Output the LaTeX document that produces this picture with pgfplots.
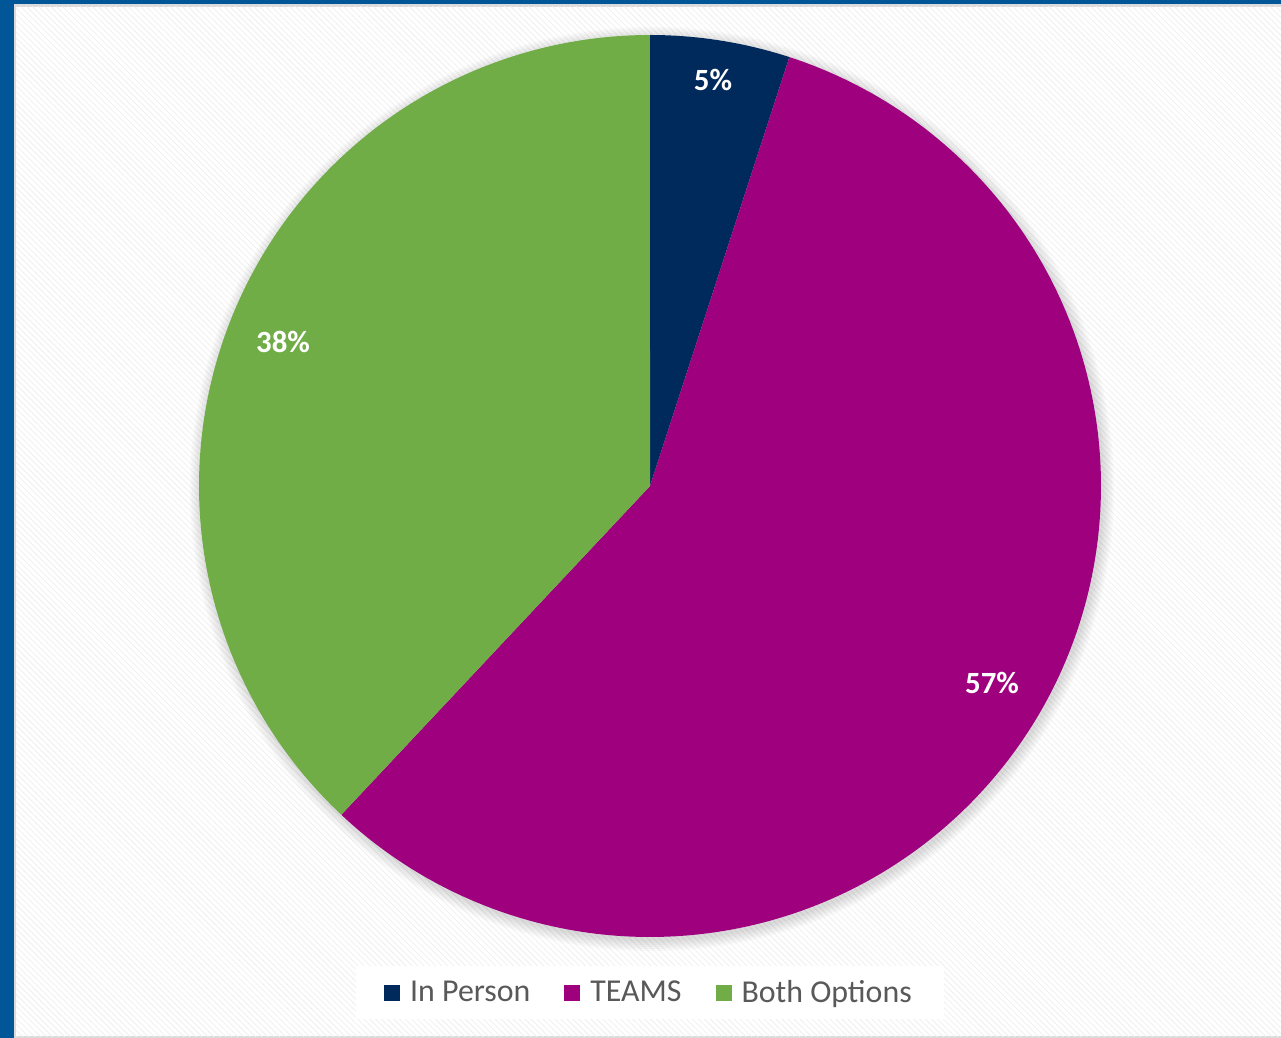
\documentclass[border=0pt]{standalone}
\usepackage{pgfplots}
\pgfplotsset{compat=1.18}
\usepackage{fontspec}
\setmainfont{Carlito}
\usetikzlibrary{patterns}
\definecolor{inperson}{RGB}{0,42,92}
\definecolor{teams}{RGB}{158,0,126}
\definecolor{both}{RGB}{112,173,71}
\definecolor{frameblue}{RGB}{0,86,150}
\definecolor{legtext}{RGB}{89,89,89}
% shares in percent (cumulative from the top, clockwise)
% In Person 5, TEAMS 57, Both Options 38
\begin{document}
\begin{tikzpicture}
\begin{axis}[
  scale only axis, width=640.5bp, height=519bp,
  xmin=0, xmax=1281, ymin=0, ymax=1038,
  hide axis, clip=false,
  area legend,
  legend columns=3,
  legend style={at={(axis description cs:0.5074,0.0438)}, anchor=center,
    draw=none, fill=white, font=\fontsize{16}{19}\selectfont\color{legtext},
    inner xsep=14bp, inner ysep=5bp,
    /tikz/every odd column/.append style={column sep=3bp},
    /tikz/every even column/.append style={column sep=15bp}},
  legend image code/.code={\fill[#1] (0bp,-4bp) rectangle (8bp,4bp);},
]
% background
\fill[frameblue] (axis cs:0,0) rectangle (axis cs:1281,1038);
\fill[black!14] (axis cs:14,0) rectangle (axis cs:1281,1034);
\fill[white] (axis cs:16,2) rectangle (axis cs:1281,1031);
\fill[pattern=north west lines, pattern color=black!6] (axis cs:16,2) rectangle (axis cs:1281,1031);
% soft shadow
\pgfplotsinvokeforeach{452,454,456,458,460,462}{
  \fill[black, opacity=0.025] (axis cs:652,549) circle[radius=#1];
}
\addplot[fill=inperson, draw=none, domain=90:72, samples=40]
  ({650+451*cos(x)},{552+451*sin(x)}) -- (axis cs:650,552) -- cycle;
\addlegendentry{In Person}
\addplot[fill=teams, draw=none, domain=72:-133.2, samples=200]
  ({650+451*cos(x)},{552+451*sin(x)}) -- (axis cs:650,552) -- cycle;
\addlegendentry{TEAMS}
\addplot[fill=both, draw=none, domain=-133.2:-270, samples=150]
  ({650+451*cos(x)},{552+451*sin(x)}) -- (axis cs:650,552) -- cycle;
\addlegendentry{Both Options}
\node[text=white, font=\fontsize{15.5}{18}\selectfont\bfseries] at (axis cs:713,958) {5\%};
\node[text=white, font=\fontsize{15.5}{18}\selectfont\bfseries] at (axis cs:992,355) {57\%};
\node[text=white, font=\fontsize{15.5}{18}\selectfont\bfseries] at (axis cs:283,696) {38\%};
\end{axis}
\end{tikzpicture}
\end{document}
